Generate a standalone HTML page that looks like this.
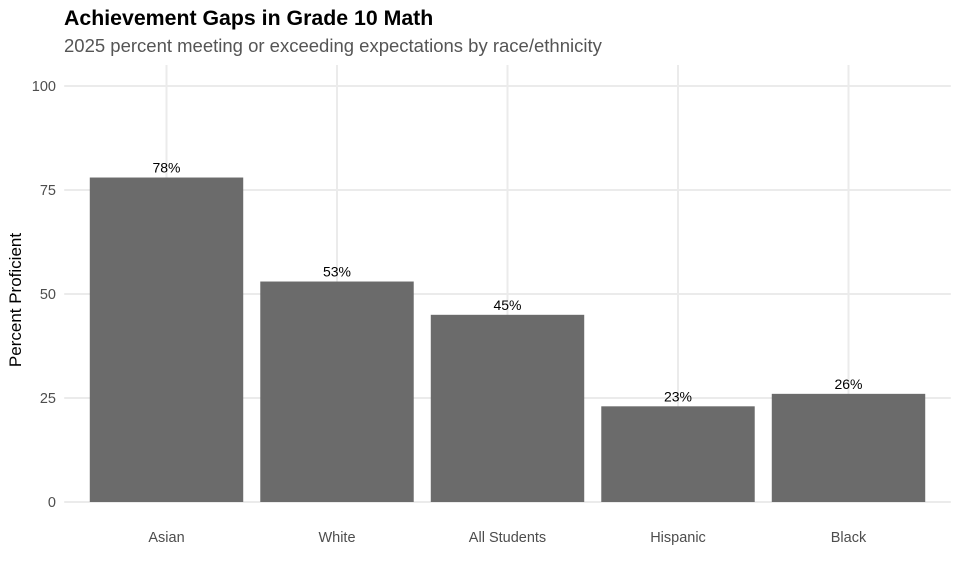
<!DOCTYPE html>
<html><head><meta charset="utf-8"><style>
body{margin:0;background:#fff;font-family:"Liberation Sans",Arial,sans-serif}
</style></head><body>
<svg width="960" height="576" xmlns="http://www.w3.org/2000/svg" id="chart">
<text x="64" y="25" font-size="21.3" font-weight="bold" fill="#000">Achievement Gaps in Grade 10 Math</text>
<text x="64" y="52" font-size="18.5" fill="#555">2025 percent meeting or exceeding expectations by race/ethnicity</text>
<text transform="translate(21,300) rotate(-90)" text-anchor="middle" font-size="17" fill="#000">Percent Proficient</text>
<g id="grid"></g><g id="bars"></g><g id="labels"></g>
</svg>
<script>
const categories=["Asian","White","All Students","Hispanic","Black"];
const values=[78,53,45,23,26];
const valueLabels=["78%","53%","45%","23%","26%"];
const yTicks=[0,25,50,75,100];
const NS="http://www.w3.org/2000/svg";
const pLeft=64.2,pRight=950.8,y0=502,k=4.16,panelTop=65;
const step=(pRight-pLeft)/(categories.length+0.2);
const xs=i=>pLeft+step*(0.6+i);
const ys=v=>y0-v*k;
const grid=document.getElementById('grid'),bars=document.getElementById('bars'),labels=document.getElementById('labels');
function mk(tag,attrs,parent){const e=document.createElementNS(NS,tag);for(const a in attrs)e.setAttribute(a,attrs[a]);parent.appendChild(e);return e;}
yTicks.forEach(t=>{
 const l=mk('line',{x1:pLeft,x2:pRight,y1:ys(t),y2:ys(t),stroke:'#ebebeb','stroke-width':2},grid);
 
 
 const tx=mk('text',{x:56,y:ys(t)+5,'text-anchor':'end','font-size':14.5,fill:'#4d4d4d'},grid);
 tx.textContent=t;
 
 
});
categories.forEach((c,i)=>{
 const l=mk('line',{x1:xs(i),x2:xs(i),y1:panelTop,y2:y0,stroke:'#ebebeb','stroke-width':2},grid);
 
 
 const w=step*0.9;
 const r=mk('rect',{x:xs(i)-w/2,y:ys(values[i]),width:w,height:values[i]*k,fill:'#6b6b6b'},bars);
 
 
 const vl=mk('text',{x:xs(i),y:ys(values[i])-5,'text-anchor':'middle','font-size':14,fill:'#000'},labels);
 vl.textContent=valueLabels[i];
 
 
 const xl=mk('text',{x:xs(i),y:542,'text-anchor':'middle','font-size':14.5,fill:'#4d4d4d'},labels);
 xl.textContent=c;
 
 
});
</script>
</body></html>
